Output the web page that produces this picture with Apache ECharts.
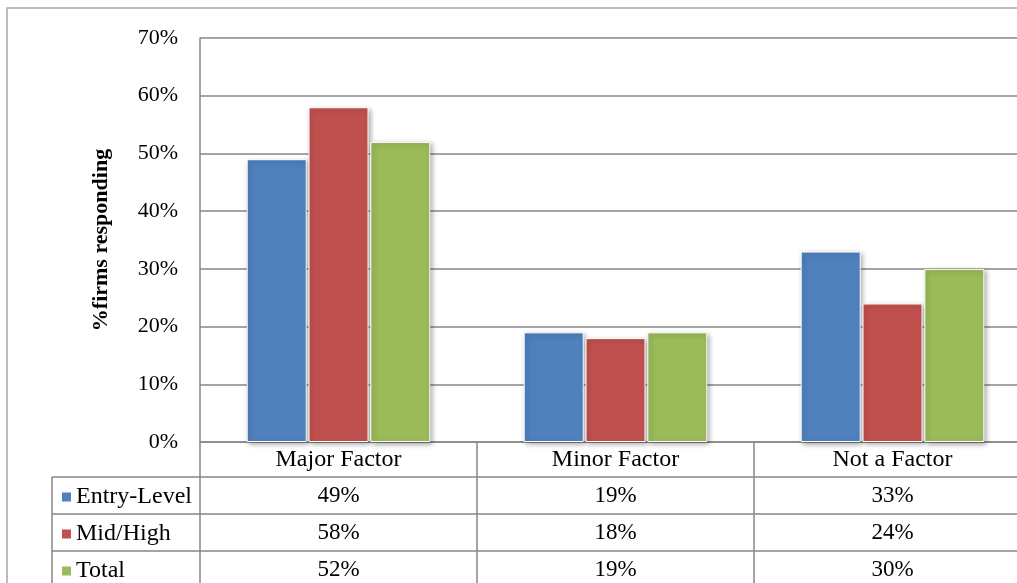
<!DOCTYPE html>
<html>
<head>
<meta charset="utf-8">
<script src="https://cdn.jsdelivr.net/npm/echarts@6/dist/echarts.min.js"></script>
<style>
html,body{margin:0;padding:0;background:#fff;}
#chart{width:1017px;height:583px;}
</style>
</head>
<body>
<div id="chart"></div>
<script>
var categories = ['Major Factor', 'Minor Factor', 'Not a Factor'];
var seriesNames = ['Entry-Level', 'Mid/High', 'Total'];
var entryLevel = [49, 19, 33];
var midHigh = [58, 18, 24];
var total = [52, 19, 30];
var yTicks = [0, 10, 20, 30, 40, 50, 60, 70];
var colors = ['#4F81BD', '#C0504D', '#9BBB59'];

var seriesData = [entryLevel, midHigh, total];
var FONT = '"Liberation Serif", "Times New Roman", serif';
var LINE = '#868686';
var FS = 22;

var chart = echarts.init(document.getElementById('chart'), null, {renderer: 'canvas'});

function tableAxis(offset, tickLen, rowValues) {
  return {
    type: 'category',
    gridIndex: 0,
    position: 'bottom',
    offset: offset,
    data: categories,
    boundaryGap: true,
    axisLine: {show: true, lineStyle: {color: LINE, width: 1.5}},
    axisTick: {show: true, length: tickLen, lineStyle: {color: LINE, width: 1.5}},
    axisLabel: {
      show: true,
      margin: rowValues ? 7 : 6,
      fontFamily: FONT,
      fontSize: rowValues ? 23 : 24,
      color: '#000',
      interval: 0,
      formatter: function (v, i) {
        return rowValues ? rowValues[i] + '%' : v;
      }
    },
    splitLine: {show: false}
  };
}

var legends = seriesNames.map(function (name, k) {
  return {
    orient: 'horizontal',
    left: 62,
    top: 485 + 37 * k,
    padding: 0,
    itemWidth: 9,
    itemHeight: 9,
    icon: 'rect',
    data: [name],
    itemStyle: {borderWidth: 0, shadowBlur: 0},
    textStyle: {fontFamily: FONT, fontSize: 24, color: '#000', lineHeight: 20}
  };
});

var option = {
  animation: false,
  backgroundColor: '#fff',
  grid: {left: 200, top: 38, width: 831, height: 404, containLabel: false, outerBoundsMode: 'none'},
  legend: legends,
  xAxis: [
    tableAxis(0, 35, null),
    tableAxis(35, 37, entryLevel),
    tableAxis(72, 37, midHigh),
    tableAxis(109, 40, total)
  ],
  yAxis: {
    type: 'value',
    min: 0,
    max: 70,
    interval: 10,
    name: '%firms responding',
    nameLocation: 'middle',
    nameGap: 88,
    nameRotate: 90,
    nameTextStyle: {fontFamily: FONT, fontSize: 22, fontWeight: 'bold', color: '#000'},
    axisLine: {show: true, lineStyle: {color: LINE, width: 1.5}},
    axisTick: {show: false},
    axisLabel: {
      margin: 22,
      fontFamily: FONT,
      fontSize: FS,
      color: '#000',
      formatter: function (v) { return yTicks.indexOf(v) >= 0 ? v + '%' : ''; }
    },
    splitLine: {show: true, lineStyle: {color: LINE, width: 1.5}}
  },
  series: seriesNames.map(function (name, k) {
    return {
      name: name,
      type: 'bar',
      xAxisIndex: 0,
      barWidth: 60,
      barGap: '3%',
      data: seriesData[k],
      itemStyle: {
        color: colors[k],
        borderColor: '#fff',
        borderWidth: 1,
        shadowBlur: 5,
        shadowColor: 'rgba(0,0,0,0.35)',
        shadowOffsetX: 2,
        shadowOffsetY: 2
      }
    };
  }),
  graphic: [
    {type: 'rect', silent: true, z: -10, shape: {x: 7, y: 8, width: 1200, height: 800},
     style: {fill: 'none', stroke: '#a6a6a6', lineWidth: 1.5}},
    {type: 'line', silent: true, shape: {x1: 52, y1: 477, x2: 52, y2: 600}, style: {stroke: LINE, lineWidth: 1.5}},
    {type: 'line', silent: true, shape: {x1: 52, y1: 477, x2: 200, y2: 477}, style: {stroke: LINE, lineWidth: 1.5}},
    {type: 'line', silent: true, shape: {x1: 52, y1: 514, x2: 200, y2: 514}, style: {stroke: LINE, lineWidth: 1.5}},
    {type: 'line', silent: true, shape: {x1: 52, y1: 551, x2: 200, y2: 551}, style: {stroke: LINE, lineWidth: 1.5}}
  ]
};

chart.setOption(option);
</script>
</body>
</html>
